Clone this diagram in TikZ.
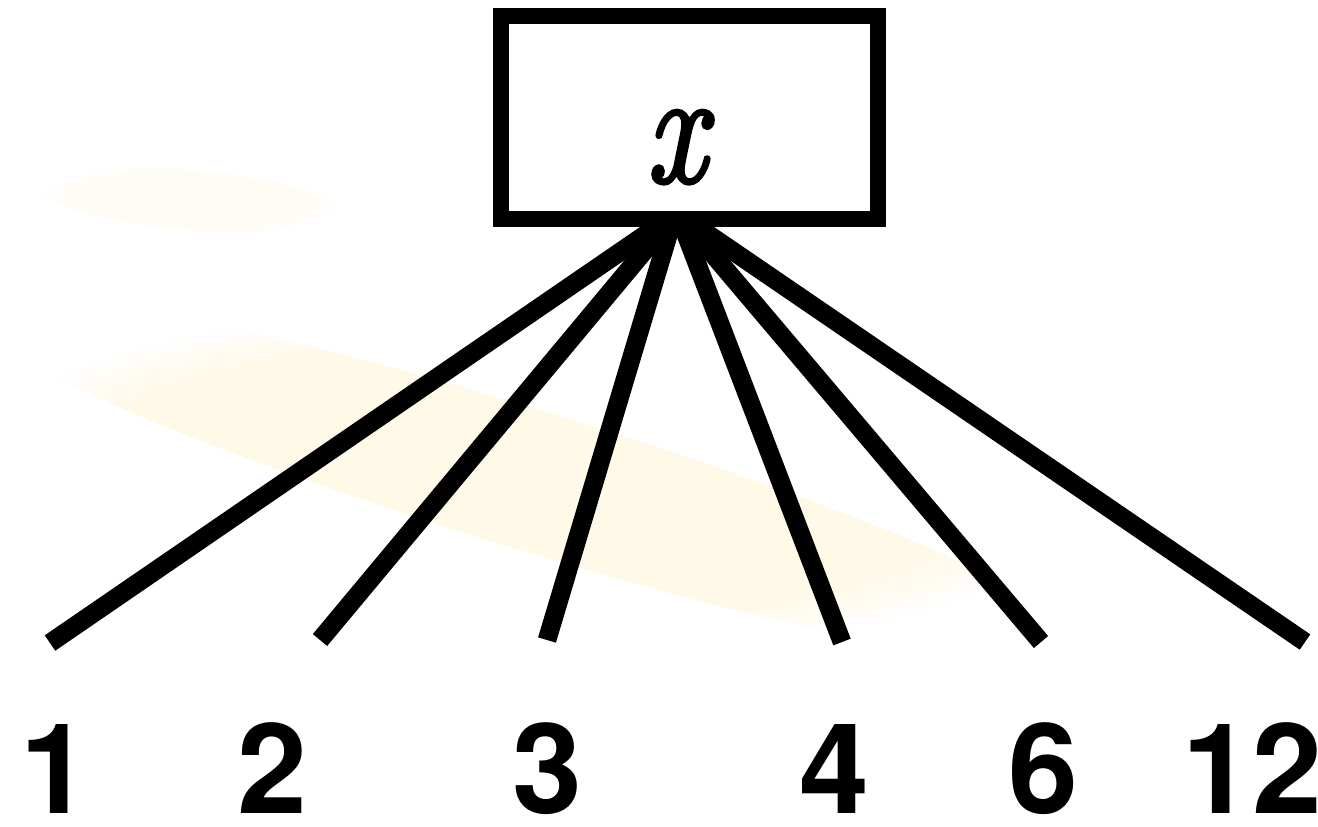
\RequirePackage{fix-cm}
\documentclass[tikz,border=0pt]{standalone}
\usepackage{fontspec}
\newfontfamily\labelfont{TeX Gyre Heros}
\newfontfamily\xfont{Latin Modern Roman}[ItalicFeatures={FakeBold=2.5}]
\usetikzlibrary{calc,fadings}
\definecolor{smear}{RGB}{255,242,205}
\tikzset{
  boxstyle/.style={draw=black, line width=4.55pt, minimum width=3.77cm, minimum height=2.03cm, inner sep=0pt, outer sep=0pt},
  edge/.style={draw=black, line width=5.3pt},
  numlabel/.style={inner sep=0pt, anchor=base, font=\labelfont\bfseries\fontsize{35.7}{36}\selectfont},
  varlabel/.style={inner sep=0pt, anchor=base, font=\xfont\fontsize{46}{46}\selectfont\itshape}
}
\begin{document}
\begin{tikzpicture}[x=0.01cm, y=-0.01cm]
\useasboundingbox (0,0) rectangle (1318,826);
\fill[white] (0,0) rectangle (1318,826);
% faint background smear
\begin{scope}[shift={(530,480)}, rotate=-17]
\fill[smear, opacity=0.45, path fading=circle with fuzzy edge 20 percent] (0,0) ellipse [x radius=600, y radius=70];
\end{scope}
\begin{scope}[shift={(190,200)}, rotate=-5]
\fill[smear, opacity=0.2, path fading=circle with fuzzy edge 20 percent] (0,0) ellipse [x radius=150, y radius=30];
\end{scope}

\node[boxstyle] (box) at (689.5,117.5) {};
\node[varlabel] (xv) at (676,182) {\scalebox{0.82}[1]{x}};

\node[numlabel] (l1) at (55,813) {1};
\node[numlabel] (l2) at (272,813) {2};
\node[numlabel] (l3) at (547,813) {3};
\node[numlabel] (l4) at (834,813) {4};
\node[numlabel] (l6) at (1043,813) {6};
\node[numlabel] (l12) at (1252,813) {12};

\coordinate (e1) at (50,643);
\coordinate (e2) at (320,640);
\coordinate (e3) at (547,640);
\coordinate (e4) at (842,642);
\coordinate (e6) at (1041,642);
\coordinate (e12) at (1305,642);

\draw[edge] ($(box.south)+(-21.5,0)$) -- (e1);
\draw[edge] ($(box.south)+(-18.5,0)$) -- (e2);
\draw[edge] ($(box.south)+(-16.5,0)$) -- (e3);
\draw[edge] ($(box.south)+(-9.5,0)$) -- (e4);
\draw[edge] ($(box.south)+(-6.5,0)$) -- (e6);
\draw[edge] ($(box.south)+(-3.5,0)$) -- (e12);

\node[boxstyle] at (box.center) {};
\end{tikzpicture}
\end{document}
